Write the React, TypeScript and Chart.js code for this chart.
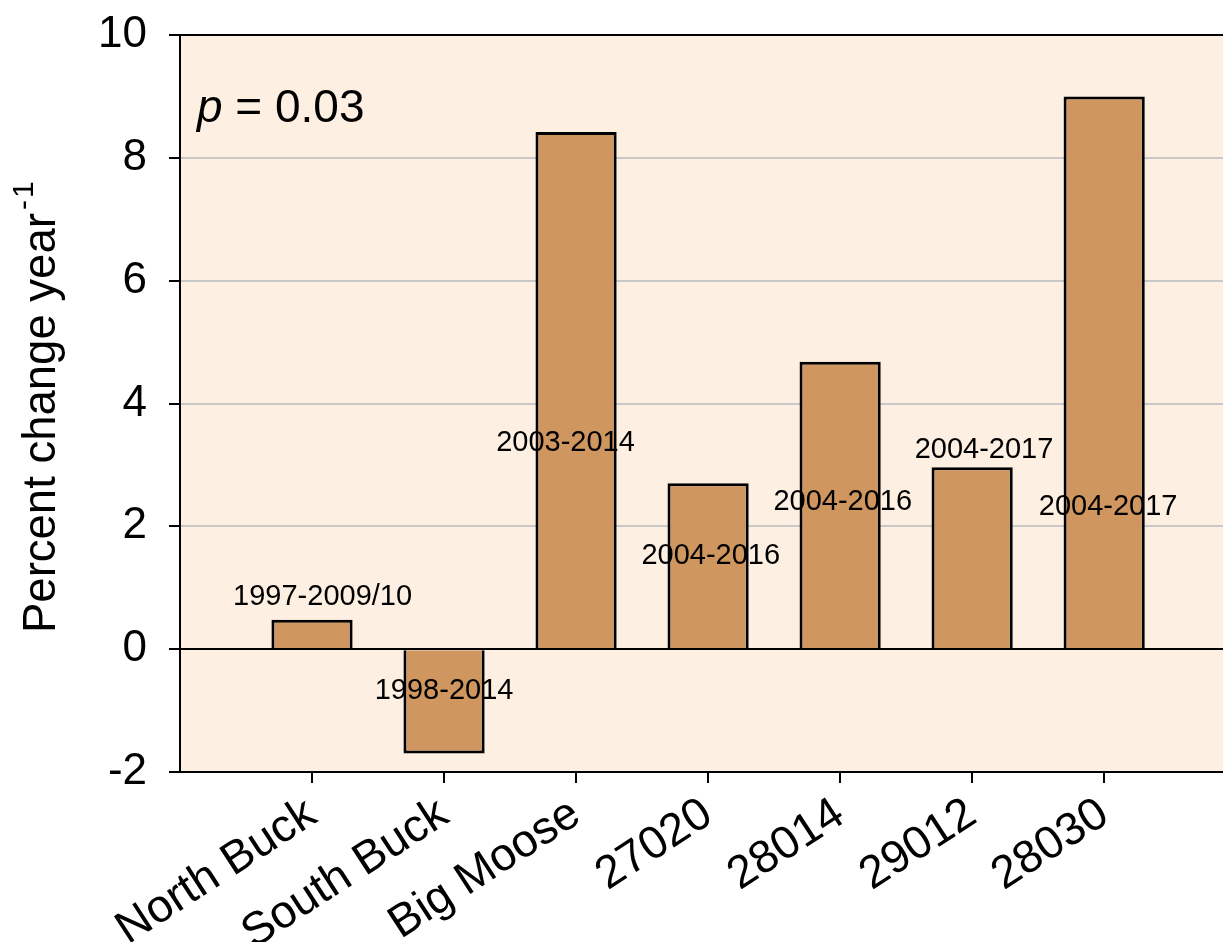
import React, { useEffect, useRef } from "react";
import { Chart, registerables } from "chart.js";

Chart.register(...registerables);

// Sites (tick labels) and their positions on the x axis
const sites = ["North Buck", "South Buck", "Big Moose", "27020", "28014", "29012", "28030"];
const sitePositions = [1, 2, 3, 4, 5, 6, 7];

// Trend in percent change per year for each site
const percentChange = [0.48, -1.7, 8.42, 2.7, 4.68, 2.96, 9.0];

// Record period shown next to each bar, anchored in axis units
const periods = ["1997-2009/10", "1998-2014", "2003-2014", "2004-2016", "2004-2016", "2004-2017", "2004-2017"];
const periodAnchorX = [1.08, 2.0, 2.92, 4.02, 5.02, 6.09, 7.03];
const periodAnchorY = [0.85, -0.68, 3.35, 1.51, 2.39, 3.25, 2.31];

// Value axis
const yTicks = [-2, 0, 2, 4, 6, 8, 10];
const yMin = -2;
const yMax = 10;
const xMin = 0;
const xMax = 7.9;

const pValue = "0.03";
const yTitle = "Percent change year";
const yTitleExponent = ["-", "1"];

const FONT = "'Liberation Sans', Arial, Helvetica, sans-serif";
const PLOT_BG = "#FDF0E2";
const BAR_FILL = "#CF965F";
const GRID_GRAY = "#C8C8C8";

const decorPlugin = {
  id: "decor",
  beforeDraw(chart: any) {
    const { ctx, chartArea: a } = chart;
    ctx.save();
    ctx.fillStyle = PLOT_BG;
    ctx.fillRect(a.left, a.top, a.right - a.left, a.bottom - a.top);
    ctx.restore();
  },
  afterDatasetsDraw(chart: any) {
    const { ctx, chartArea: a } = chart;
    const x = chart.scales.x;
    const y = chart.scales.y;
    ctx.save();

    // zero reference line on top of the bar bases
    const y0 = Math.round(y.getPixelForValue(0));
    ctx.strokeStyle = "#000";
    ctx.lineWidth = 2;
    ctx.beginPath();
    ctx.moveTo(a.left, y0);
    ctx.lineTo(a.right, y0);
    ctx.stroke();

    ctx.fillStyle = "#000";
    ctx.font = `29px ${FONT}`;
    ctx.textAlign = "center";
    ctx.textBaseline = "middle";
    periods.forEach((t, i) => {
      ctx.fillText(t, x.getPixelForValue(periodAnchorX[i]), y.getPixelForValue(periodAnchorY[i]));
    });

    // significance note, italic p
    ctx.textAlign = "left";
    ctx.textBaseline = "alphabetic";
    const px = a.left + 17;
    const py = a.top + 87;
    ctx.font = `italic 46px ${FONT}`;
    ctx.fillText("p", px, py);
    const pw = ctx.measureText("p").width;
    ctx.font = `46px ${FONT}`;
    ctx.fillText(` = ${pValue}`, px + pw, py);
    ctx.restore();
  },
  afterDraw(chart: any) {
    const { ctx } = chart;
    ctx.save();
    ctx.fillStyle = "#000";
    ctx.translate(55, 633);
    ctx.rotate(-Math.PI / 2);
    ctx.textAlign = "left";
    ctx.textBaseline = "alphabetic";
    ctx.font = `45.5px ${FONT}`;
    ctx.fillText(yTitle, 0, 0);
    const w = ctx.measureText(yTitle).width;
    // raised exponent
    ctx.font = `30px ${FONT}`;
    ctx.fillText(yTitleExponent[0], w + 3, -22);
    ctx.fillText(yTitleExponent[1], w + 15, -22);
    ctx.restore();
  },
};

export default function App() {
  const canvasRef = useRef<HTMLCanvasElement | null>(null);

  useEffect(() => {
    document.body.style.margin = "0";
    const canvas = canvasRef.current;
    if (!canvas) return;

    const chart = new Chart(canvas, {
      type: "bar",
      data: {
        datasets: [
          {
            data: sitePositions.map((p, i) => ({ x: p, y: percentChange[i] })),
            backgroundColor: BAR_FILL,
            borderColor: "#000",
            borderWidth: 3,
            borderSkipped: "start",
            categoryPercentage: 1,
            barPercentage: 0.615,
          },
        ],
      },
      options: {
        responsive: false,
        animation: false,
        events: [],
        layout: { padding: { top: 35, left: 0, right: 0, bottom: 0 } },
        plugins: {
          legend: { display: false },
          tooltip: { enabled: false },
        },
        scales: {
          x: {
            type: "linear",
            min: xMin,
            max: xMax,
            offset: false,
            afterBuildTicks: (s: any) => {
              s.ticks = sitePositions.map((v) => ({ value: v }));
            },
            afterFit: (s: any) => {
              s.height = 170;
              s.paddingLeft = 0;
              s.paddingRight = 0;
            },
            ticks: {
              autoSkip: false,
              minRotation: 33,
              maxRotation: 33,
              padding: 4,
              color: "#000",
              font: { family: FONT, size: 46 },
              callback: (_v: any, i: number) => sites[i],
            },
            grid: {
              offset: false,
              drawOnChartArea: false,
              drawTicks: true,
              tickLength: 11,
              tickColor: "#000",
              lineWidth: 2,
            },
            border: { display: true, color: "#000", width: 2 },
          },
          y: {
            min: yMin,
            max: yMax,
            afterBuildTicks: (s: any) => {
              s.ticks = yTicks.map((v) => ({ value: v }));
            },
            afterFit: (s: any) => {
              s.width = 180;
              s.paddingTop = 0;
              s.paddingBottom = 0;
            },
            ticks: {
              padding: 22,
              color: "#000",
              font: { family: FONT, size: 44 },
            },
            grid: {
              color: (c: any) => {
                const v = c.tick ? c.tick.value : null;
                return v === 0 || v === 10 || v === -2 ? "#000" : GRID_GRAY;
              },
              lineWidth: 2,
              tickLength: 11,
              tickColor: "#000",
            },
            border: { display: true, color: "#000", width: 2 },
          },
        },
      },
      plugins: [decorPlugin],
    } as any);

    return () => chart.destroy();
  }, []);

  return (
    <div style={{ width: 1223, height: 942 }}>
      <canvas ref={canvasRef} width={1223} height={942} style={{ display: "block" }} />
    </div>
  );
}
